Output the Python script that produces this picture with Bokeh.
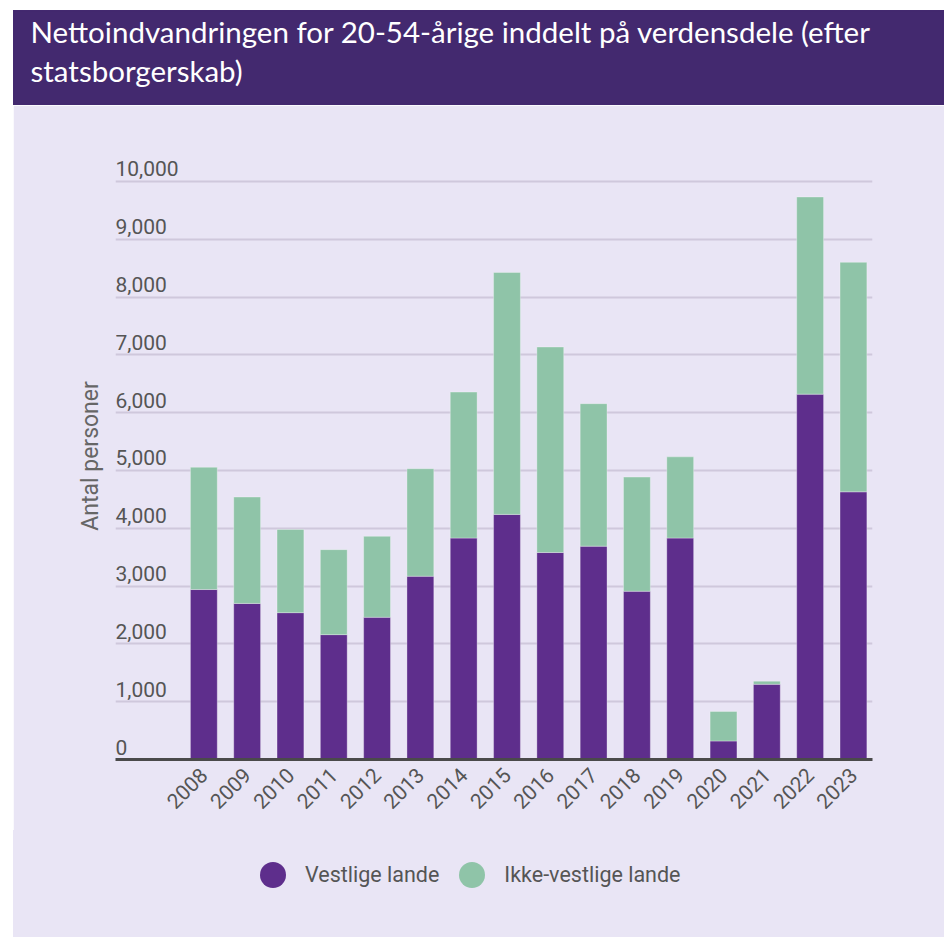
import math
from bokeh.plotting import figure
from bokeh.models import ColumnDataSource, Range1d, FixedTicker, Legend, LegendItem, Spacer
from bokeh.layouts import column, row
from bokeh.core.properties import value
from bokeh.embed import file_html
from bokeh.resources import INLINE

# ---------------- data ----------------
years = ["2008", "2009", "2010", "2011", "2012", "2013", "2014", "2015",
         "2016", "2017", "2018", "2019", "2020", "2021", "2022", "2023"]
vestlige = [2940, 2700, 2540, 2160, 2460, 3170, 3830, 4240,
            3580, 3690, 2910, 3830, 320, 1300, 6320, 4630]
ikke_vestlige = [2115, 1840, 1440, 1470, 1400, 1860, 2525, 4185,
                 3555, 2465, 1975, 1405, 510, 55, 3410, 3970]
y_ticks = [0, 1000, 2000, 3000, 4000, 5000, 6000, 7000, 8000, 9000, 10000]
y_tick_labels = ["0", "1,000", "2,000", "3,000", "4,000", "5,000",
                 "6,000", "7,000", "8,000", "9,000", "10,000"]
series_names = ["Vestlige lande", "Ikke-vestlige lande"]
title_text = "Nettoindvandringen for 20-54-årige inddelt på verdensdele (efter\nstatsborgerskab)"
y_axis_title = "Antal personer"

# ---------------- style ----------------
HEAD = "#43296f"
LAV = "#e9e5f5"
PURPLE = "#5e2e8c"
GREEN = "#8fc4a8"
GRID = "#cfc8dc"
TXT = "#555555"
FONT = "Roboto"
W = 931

# ---------------- header ----------------
h = figure(width=W, height=95, x_range=Range1d(0, 1), y_range=Range1d(0, 1),
           x_axis_type=None, y_axis_type=None, min_border=0,
           toolbar_location=None, output_backend="svg",
           background_fill_color=HEAD, border_fill_color=HEAD,
           outline_line_color=HEAD, outline_line_width=2, frame_align=False)
h.text(x=[0], y=[1], text=[title_text], x_offset=17, y_offset=3,
       text_baseline="top", text_align="left", text_font=value("Lato"),
       text_font_size="29.5px", text_color="white", text_line_height=1.12)

# ---------------- main chart ----------------
idx = list(range(len(years)))
source = ColumnDataSource(dict(x=idx, vest=vestlige, ikke=ikke_vestlige))

x_start, x_end = -2.04, 15.44
p = figure(width=W, height=725,
           x_range=Range1d(x_start, x_end), y_range=Range1d(0, 10500),
           toolbar_location=None, output_backend="svg",
           min_border_left=102, min_border_right=72,
           min_border_top=47, min_border_bottom=71,
           background_fill_color=LAV, border_fill_color=LAV,
           outline_line_color=LAV, outline_line_width=2, frame_align=False)

p.vbar_stack(["vest", "ikke"], x="x", width=0.62, source=source,
             fill_color=[PURPLE, GREEN], line_color="white",
             line_alpha=0.3, line_width=1)

# grid
p.xgrid.visible = False
p.ygrid.ticker = FixedTicker(ticks=y_ticks[1:])
p.ygrid.grid_line_color = GRID
p.ygrid.grid_line_width = 2

# y tick labels inside the plot, above grid lines
p.text(x=[x_start] * len(y_ticks), y=y_ticks, text=y_tick_labels,
       text_align="left", text_baseline="bottom", y_offset=-5,
       text_font=value(FONT), text_font_size="21px", text_color=TXT)

# x axis
p.xaxis.ticker = FixedTicker(ticks=idx)
p.xaxis.major_label_overrides = {i: y for i, y in zip(idx, years)}
p.xaxis.major_label_orientation = math.pi / 4
p.xaxis.major_label_text_font = FONT
p.xaxis.major_label_text_font_size = "21px"
p.xaxis.major_label_text_color = TXT
p.xaxis.major_label_standoff = 6
p.xaxis.major_tick_line_color = None
p.xaxis.minor_tick_line_color = None
p.xaxis.axis_line_color = "#4a4a4a"
p.xaxis.axis_line_width = 3

# y axis (title only)
p.yaxis.ticker = FixedTicker(ticks=[])
p.yaxis.axis_label = y_axis_title
p.yaxis.axis_label_text_font = FONT
p.yaxis.axis_label_text_font_size = "23px"
p.yaxis.axis_label_text_font_style = "normal"
p.yaxis.axis_label_text_color = "#666666"
p.yaxis.axis_label_standoff = 12
p.yaxis.major_label_text_font_size = "0px"
p.yaxis.major_label_standoff = 0
p.yaxis.axis_line_color = None
p.yaxis.major_tick_line_color = None
p.yaxis.minor_tick_line_color = None

# ---------------- legend strip ----------------
lg = figure(width=W, height=107, x_range=Range1d(0, 1), y_range=Range1d(0, 1),
            x_axis_type=None, y_axis_type=None, min_border=0,
            toolbar_location=None, output_backend="svg",
            background_fill_color=LAV, border_fill_color=LAV,
            outline_line_color=LAV, outline_line_width=2, frame_align=False)
# size-0 markers carrying the series: only their legend swatches are visible
r1 = lg.scatter(x="x", y="vest", source=source, marker="circle", size=0,
                fill_color=PURPLE, line_color=None)
r2 = lg.scatter(x="x", y="ikke", source=source, marker="circle", size=0,
                fill_color=GREEN, line_color=None)
legend = Legend(items=[LegendItem(label=series_names[0], renderers=[r1]),
                       LegendItem(label=series_names[1], renderers=[r2])],
                orientation="horizontal", location=(227, 30),
                glyph_width=65, glyph_height=65, label_standoff=0, spacing=0,
                padding=0, margin=0, border_line_color=None,
                background_fill_alpha=0,
                label_text_font=FONT, label_text_font_size="21.5px",
                label_text_color=TXT)
lg.add_layout(legend)

layout = row(Spacer(width=13), column(Spacer(height=10), h, p, lg))
open("out.html", "w").write(file_html(layout, INLINE))
